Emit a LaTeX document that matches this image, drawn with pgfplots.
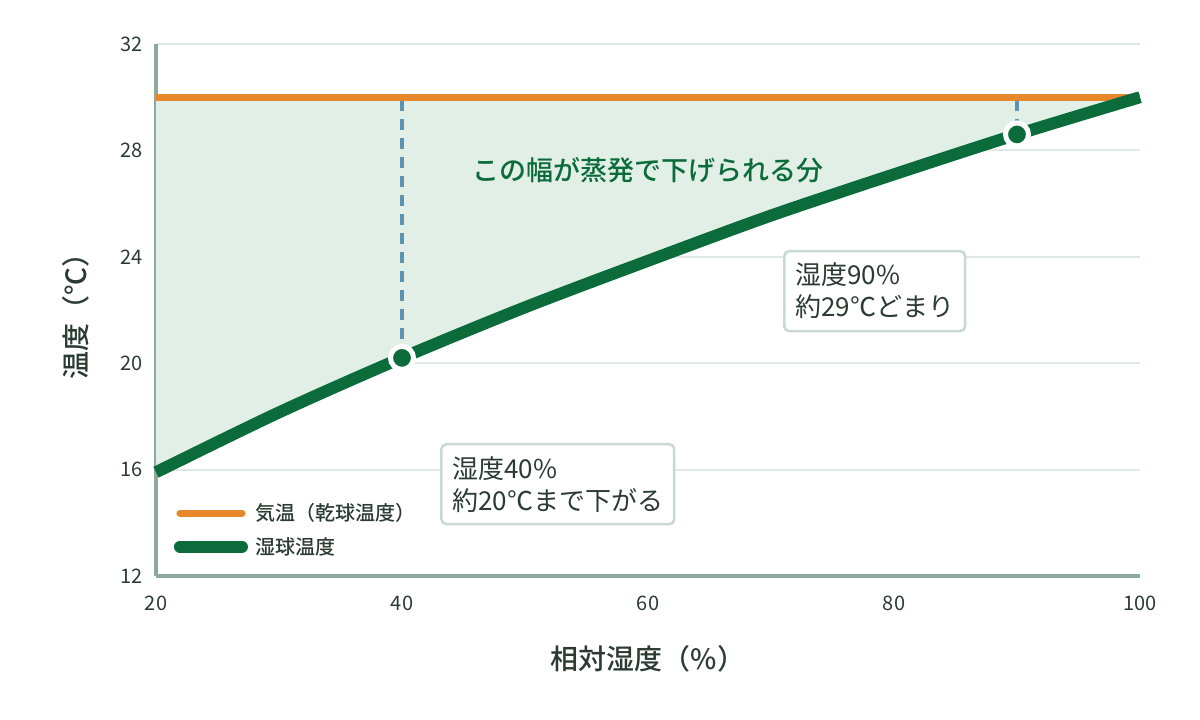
\documentclass[border=0pt]{standalone}
\usepackage{pgfplots}
\pgfplotsset{compat=1.18}
\usepgfplotslibrary{fillbetween}
\usepackage{fontspec}
\setmainfont{Noto Sans CJK JP}
\newfontfamily\medfont{Noto Sans CJK JP Medium}
\definecolor{orangec}{HTML}{E8862A}
\definecolor{greenc}{HTML}{0B6B3A}
\definecolor{fillc}{HTML}{E2EFE7}
\definecolor{dashc}{HTML}{5B93B0}
\definecolor{axisc}{HTML}{8FA89C}
\definecolor{gridc}{HTML}{E0E8E4}
\definecolor{textc}{HTML}{2B3B33}
\definecolor{boxc}{HTML}{C8D8D2}
\begin{document}
\begin{tikzpicture}
\begin{axis}[
  at={(0,0)}, anchor=south west,
  scale only axis, width=984bp, height=532bp,
  xmin=20, xmax=100, ymin=12, ymax=32,
  axis x line=bottom, axis y line=left,
  axis line style={draw=axisc, line width=3bp, -},
  xtick={20,40,60,80,100}, ytick={12,16,20,24,28,32},
  major tick length=0pt,
  ymajorgrids, grid style={draw=gridc, line width=2bp},
  /pgf/number format/assume math mode=true,
  tick label style={font=\fontsize{20bp}{22bp}\selectfont, text=textc},
  xticklabel style={yshift=-16bp},
  yticklabel style={xshift=-10bp},
  xlabel={相対湿度（\%）}, ylabel={温度（℃）},
  label style={font=\fontsize{28bp}{32bp}\selectfont\medfont, text=textc},
  xlabel style={yshift=-28bp},
  ylabel style={yshift=24bp},
  legend style={draw=none, fill=none, at={(axis cs:21.2,12.6)}, anchor=south west,
    font=\fontsize{20bp}{22bp}\selectfont\medfont, text=textc, row sep=11bp},
  legend cell align=left,
  legend image code/.code={\draw[#1, line cap=round] (0bp,0bp) -- (62bp,0bp);},
  clip=false,
]
\addplot[draw=none, name path=top, forget plot] coordinates {(20,30) (100,30)};
\addplot[draw=none, smooth, name path=wet, forget plot] coordinates {
 (20,15.9) (30,18.15) (40,20.2) (50,22.1) (60,23.85) (70,25.55) (80,27.1) (90,28.6) (100,30)};
\addplot[fill=fillc, draw=none, forget plot] fill between[of=top and wet];
\addplot[dashc, line width=3.5bp, dash pattern=on 11bp off 8bp, forget plot] coordinates {(40,29.9) (40,20.2)};
\addplot[dashc, line width=3.5bp, dash pattern=on 11bp off 8bp, forget plot] coordinates {(90,29.9) (90,28.6)};
\addplot[orangec, line width=7bp] coordinates {(20,30) (100,30)};
\addlegendentry{\hspace{6bp}気温（乾球温度）}
\addplot[greenc, line width=12bp, smooth] coordinates {
 (20,15.9) (30,18.15) (40,20.2) (50,22.1) (60,23.85) (70,25.55) (80,27.1) (90,28.6) (100,30)};
\addlegendentry{\hspace{6bp}湿球温度}
\addplot[only marks, mark=*, mark size=11.5bp, mark options={fill=greenc, draw=white, line width=5bp}, forget plot] coordinates {(40,20.2) (90,28.6)};
\node[text=greenc, font=\fontsize{27bp}{30bp}\selectfont\medfont] at (axis cs:60,27.26) {この幅が蒸発で下げられる分};
\node[draw=boxc, line width=2.5bp, rounded corners=5bp, fill=white, anchor=north west, align=left,
  inner xsep=11bp, inner ysep=12bp, text=textc, font=\fontsize{26bp}{32bp}\selectfont]
  at (axis cs:43.1,17.0) {湿度40\%\\約20℃まで下がる};
\node[draw=boxc, line width=2.5bp, rounded corners=5bp, fill=white, anchor=north west, align=left,
  inner xsep=11bp, inner ysep=12bp, text=textc, font=\fontsize{26bp}{32bp}\selectfont]
  at (axis cs:70.98,24.26) {湿度90\%\\約29℃どまり};
\end{axis}
\pgfresetboundingbox
\useasboundingbox (-156bp,-144bp) rectangle (1044bp,576bp);
\end{tikzpicture}
\end{document}
